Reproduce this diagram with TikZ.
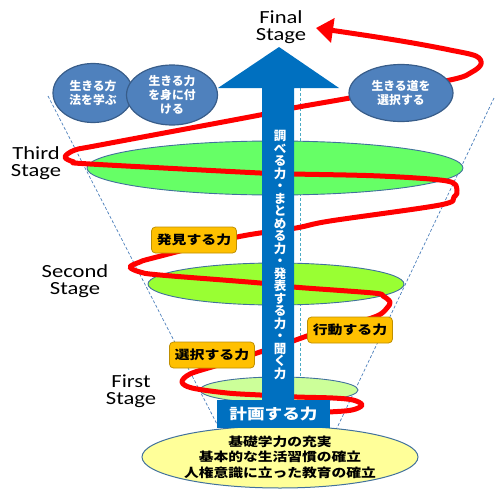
\documentclass[tikz,border=0pt]{standalone}
\usepackage{fontspec}
\setmainfont{Carlito}[FakeStretch=1.22]
\newfontfamily\jp{Noto Sans CJK JP}[FakeStretch=1.2]
\newfontfamily\jpn{Noto Sans CJK JP}
\usetikzlibrary{arrows.meta,shapes.geometric}
\definecolor{arrowblue}{HTML}{0070C0}
\definecolor{circfill}{HTML}{4F81BD}
\definecolor{circedge}{HTML}{385D8A}
\definecolor{edgec}{HTML}{41719C}
\definecolor{funnelc}{HTML}{4A7EBB}
\definecolor{cyanc}{HTML}{4BACC6}
\definecolor{greenA}{HTML}{66FF66}
\definecolor{greenB}{HTML}{99FF33}
\definecolor{greenC}{HTML}{CCFF99}
\definecolor{yellowc}{HTML}{FFFF99}
\definecolor{orangec}{HTML}{FFC000}
\definecolor{orangeedge}{HTML}{BF8F00}
\definecolor{spiralred}{HTML}{FF0000}
\tikzset{
  funnel/.style={draw=funnelc, line width=0.7pt, dash pattern=on 3pt off 2pt},
  axisline/.style={draw=cyanc, line width=0.8pt, dash pattern=on 3pt off 2pt},
  stageell/.style={ellipse, draw=edgec, line width=0.9pt, inner sep=0pt},
  bluecirc/.style={ellipse, fill=circfill, draw=circedge, line width=1.2pt, inner sep=0pt,
    text=white, align=center, font=\jpn\bfseries\fontsize{11.8}{14}\selectfont},
  skill/.style={rounded corners=4pt, fill=orangec, draw=orangeedge, line width=0.8pt,
    minimum width=85pt, minimum height=26pt, inner sep=0pt,
    font=\jp\bfseries\fontsize{12.4}{14}\selectfont},
  stagelabel/.style={align=center, font=\fontsize{18.5}{17.5}\selectfont, inner sep=0pt},
  spiral/.style={draw=spiralred, line width=5pt, line join=round,
    -{Triangle[length=17pt,width=24pt]}},
  blueshape/.style={fill=arrowblue},
  basebox/.style={fill=arrowblue, minimum width=113pt, minimum height=28pt, inner sep=0pt,
    text=white, font=\jp\bfseries\fontsize{14.7}{16}\selectfont},
  vtext/.style={align=center, text=white, inner sep=0pt,
    font=\jpn\bfseries\fontsize{12.5}{12.5}\selectfont},
  foundation/.style={ellipse, fill=yellowc, draw=edgec, line width=1pt, inner sep=0pt,
    minimum width=276pt, minimum height=62pt, align=center,
    font=\jp\bfseries\fontsize{12.3}{15.5}\selectfont}
}
\begin{document}
\begin{tikzpicture}[x=1pt,y=-1pt]
\useasboundingbox (0,0) rectangle (496,490);
% funnel guide lines
\coordinate (fl1) at (48,96);
\coordinate (fl2) at (220,430);
\coordinate (fr1) at (494,98);
\coordinate (fr2) at (336,430);
\coordinate (ax1) at (300,88);
\coordinate (ax2) at (300,400);
\draw[funnel] (fl1) -- (fl2);
\draw[funnel] (fr1) -- (fr2);
\draw[axisline] (ax1) -- (ax2);
% stage discs
\node[stageell, fill=greenA, minimum width=376pt, minimum height=54pt] (e3) at (275,168) {};
\node[stageell, fill=greenB, minimum width=256pt, minimum height=42pt] (e2) at (276,284) {};
\node[stageell, fill=greenC, minimum width=158pt, minimum height=26pt] (e1) at (279,390) {};
% foundation
\node[foundation] (found) at (280,457) {基礎学力の充実\\基本的な生活習慣の確立\\人権意識に立った教育の確立};
% red spiral
\draw[spiral] plot[smooth, tension=0.55] coordinates {
 (290,413) (328,412) (352,410) (362,405) (353,400) (333,398) (297,397) (260,395)
 (227,393) (192,388) (182,382) (190,374) (215,366) (257,353) (293,341) (307,336)
 (345,326) (377,316) (387,308) (390,302) (383,296) (373,293) (293,287) (260,283)
 (160,275) (140,272) (130,267) (140,262) (153,258) (237,237) (296,228) (330,221)
 (440,205) (454,197) (457,190) (447,181) (380,176) (293,174) (260,173) (90,164)
 (74,162) (65,157) (75,150) (100,145) (260,115) (293,108) (350,98) (450,80)
 (472,72) (481,64) (476,56) (450,50) (413,43) (370,36) (316,28)};
% big blue arrow
\fill[blueshape] (262,400) -- (262,88) -- (218,88) -- (279,47) -- (339,88) -- (294,88) -- (294,400) -- cycle;
\node[vtext] (vt) at (280,255) {調\\べ\\る\\力\\・\\ま\\と\\め\\る\\力\\・\\発\\表\\す\\る\\力\\・\\聞\\く\\力};
\node[basebox] (keikaku) at (273.5,414) {計画する力};
% skills
\node[skill] (hakken) at (194,240) {発見する力};
\node[skill] (koudou) at (350,330) {行動する力};
\node[skill] (sentaku) at (212,355) {選択する力};
% blue circles
\node[bluecirc, minimum width=80pt, minimum height=59pt] (c1) at (93,93) {生きる方\\法を学ぶ};
\node[bluecirc, minimum width=91pt, minimum height=60pt] (c2) at (172,95) {生きる力\\を身に付\\ける};
\node[bluecirc, minimum width=104pt, minimum height=57pt] (c3) at (401,93) {生きる道を\\選択する};
% stage labels
\node[stagelabel] (lfinal) at (281,27) {Final\\Stage};
\node[stagelabel] (lthird) at (36,163) {Third\\Stage};
\node[stagelabel] (lsecond) at (75,281) {Second\\Stage};
\node[stagelabel] (lfirst) at (131,391) {First\\Stage};
\end{tikzpicture}
\end{document}
